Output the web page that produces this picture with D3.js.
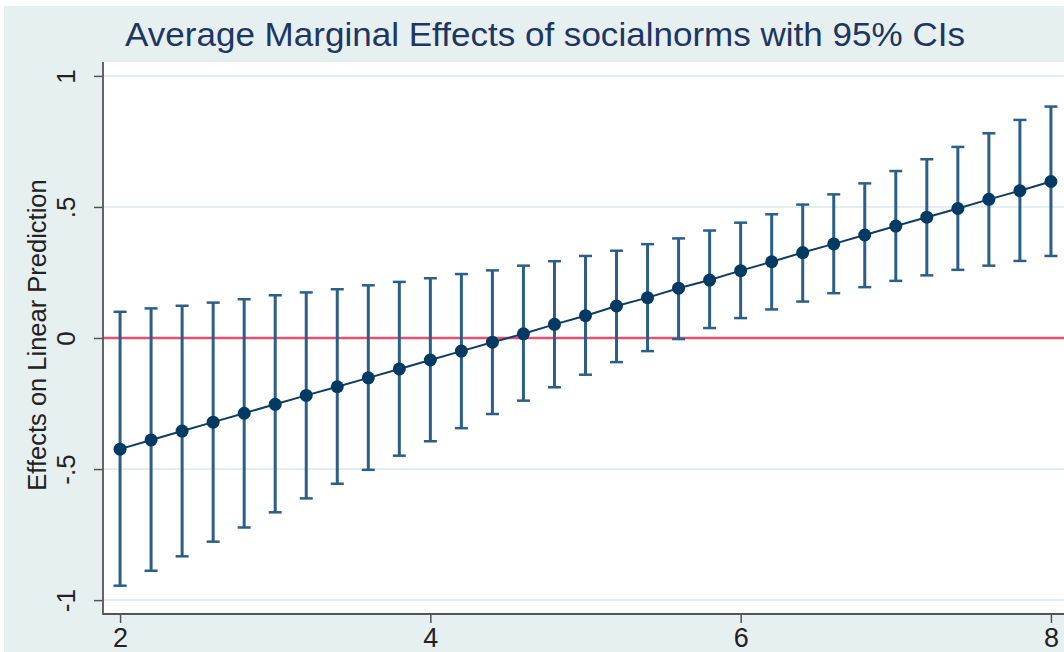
<!DOCTYPE html>
<html>
<head>
<meta charset="utf-8">
<script src="https://cdn.jsdelivr.net/npm/d3@7"></script>
<style>
  body { margin: 0; background: #fff; }
  text { font-family: "Liberation Sans", Arial, sans-serif; }
</style>
</head>
<body>
<div class="chart"></div>
<script>
// values
const xVals = [2, 2.2, 2.4, 2.6, 2.8, 3, 3.2, 3.4, 3.6, 3.8, 4, 4.2, 4.4, 4.6, 4.8, 5,
  5.2, 5.4, 5.6, 5.8, 6, 6.2, 6.4, 6.6, 6.8, 7, 7.2, 7.4, 7.6, 7.8, 8];
const margins = [-0.424, -0.389, -0.355, -0.321, -0.287, -0.253, -0.219, -0.186, -0.152, -0.118,
  -0.084, -0.050, -0.016, 0.016, 0.052, 0.085, 0.122, 0.154, 0.190, 0.221, 0.257, 0.291,
  0.326, 0.359, 0.393, 0.427, 0.461, 0.494, 0.529, 0.562, 0.597];
const upperCI = [0.100, 0.113, 0.123, 0.135, 0.148, 0.163, 0.174, 0.186, 0.201, 0.214,
  0.228, 0.244, 0.258, 0.276, 0.293, 0.313, 0.333, 0.358, 0.380, 0.410, 0.440, 0.472,
  0.509, 0.548, 0.590, 0.637, 0.682, 0.729, 0.781, 0.832, 0.883];
const lowerCI = [-0.945, -0.888, -0.833, -0.777, -0.723, -0.665, -0.612, -0.556, -0.503, -0.449,
  -0.394, -0.344, -0.290, -0.239, -0.188, -0.140, -0.092, -0.050, -0.004, 0.038, 0.076, 0.109,
  0.139, 0.171, 0.194, 0.218, 0.239, 0.260, 0.276, 0.294, 0.313];
const yTicks = [-1, -0.5, 0, 0.5, 1];
const yTickLabels = ["-1", "-.5", "0", ".5", "1"];
const xTicks = [2, 4, 6, 8];
const titleText = "Average Marginal Effects of socialnorms with 95% CIs";
const yTitle = "Effects on Linear Prediction";

const data = xVals.map((x, i) => ({x: x, m: margins[i], lo: lowerCI[i], hi: upperCI[i]}));

const width = 1064;
const height = 652;
const svg = d3.select('.chart')
    .append('svg')
    .attr('width', width)
    .attr('height', height);

// outer graph region
svg.append('rect')
    .attr('x', 4).attr('y', 6)
    .attr('width', width).attr('height', height)
    .attr('fill', '#e6f0f1');

const x = d3.scaleLinear().domain([1.89, 8.11]).range([103, 1068]);
const y = d3.scaleLinear().domain([-1.053, 1.053]).range([614, 62]);

// plot region
svg.append('rect')
    .attr('x', x(1.89)).attr('y', y(1.053))
    .attr('width', x(8.11) - x(1.89)).attr('height', y(-1.053) - y(1.053))
    .attr('fill', '#fff');

// gridlines
svg.selectAll('.grid')
    .data(yTicks.filter(t => t !== 0))
    .enter()
    .append('line')
    .attr('x1', x(1.89)).attr('x2', x(8.11))
    .attr('y1', d => y(d)).attr('y2', d => y(d))
    .attr('stroke', '#e3eef0')
    .attr('stroke-width', 2);

// reference line at zero
svg.append('line')
    .attr('x1', x(1.89)).attr('x2', x(8.11))
    .attr('y1', y(0)).attr('y2', y(0))
    .attr('stroke', '#e8506f')
    .attr('stroke-width', 2.5);

// axes
const yAxis = d3.axisLeft(y)
    .tickValues(yTicks)
    .tickSize(9)
    .tickFormat((d, i) => yTickLabels[i]);
const gy = svg.append('g')
    .attr('transform', 'translate(' + x(1.89) + ',0)')
    .call(yAxis);
gy.select('.domain').remove();
gy.selectAll('.tick line').attr('stroke', '#555').attr('stroke-width', 1.5);
gy.selectAll('.tick text')
    .attr('x', null).attr('dy', null)
    .attr('text-anchor', 'middle')
    .attr('transform', 'translate(-28,0) rotate(-90)')
    .attr('font-size', 26)
    .attr('fill', '#222');

const xAxis = d3.axisBottom(x)
    .tickValues(xTicks)
    .tickSize(9)
    .tickFormat(d3.format('d'));
const gx = svg.append('g')
    .attr('transform', 'translate(0,' + y(-1.053) + ')')
    .call(xAxis);
gx.select('.domain').remove();
gx.selectAll('.tick line').attr('stroke', '#555').attr('stroke-width', 1.5);
gx.selectAll('.tick text')
    .attr('y', 33).attr('dy', null)
    .attr('font-size', 27)
    .attr('fill', '#222');

// axis lines
svg.append('line')
    .attr('x1', x(1.89)).attr('x2', x(1.89))
    .attr('y1', y(1.053)).attr('y2', y(-1.053) + 1)
    .attr('stroke', '#555').attr('stroke-width', 1.8);
svg.append('line')
    .attr('x1', x(1.89)).attr('x2', x(8.11))
    .attr('y1', y(-1.053)).attr('y2', y(-1.053))
    .attr('stroke', '#555').attr('stroke-width', 1.8);

// CI bars
const ciColor = '#2b5f87';
svg.selectAll('.ci')
    .data(data)
    .enter()
    .append('line')
    .attr('x1', d => x(d.x)).attr('x2', d => x(d.x))
    .attr('y1', d => y(d.hi)).attr('y2', d => y(d.lo))
    .attr('stroke', ciColor)
    .attr('stroke-width', 3);
['hi', 'lo'].forEach(k => {
  svg.selectAll('.cap-' + k)
      .data(data)
      .enter()
      .append('line')
      .attr('x1', d => x(d.x) - 6.5).attr('x2', d => x(d.x) + 6.5)
      .attr('y1', d => y(d[k])).attr('y2', d => y(d[k]))
      .attr('stroke', ciColor)
      .attr('stroke-width', 2.5);
});

// connecting line and points
const line = d3.line().x(d => x(d.x)).y(d => y(d.m));
svg.append('path')
    .datum(data)
    .attr('d', line)
    .attr('fill', 'none')
    .attr('stroke', '#0f3d62')
    .attr('stroke-width', 2);
svg.selectAll('.pt')
    .data(data)
    .enter()
    .append('circle')
    .attr('cx', d => x(d.x))
    .attr('cy', d => y(d.m))
    .attr('r', 6.5)
    .attr('fill', '#023a63');

// titles
svg.append('text')
    .attr('x', 545).attr('y', 46)
    .attr('text-anchor', 'middle')
    .attr('font-size', 33)
    .attr('textLength', 840)
    .attr('lengthAdjust', 'spacingAndGlyphs')
    .attr('fill', '#1e3660')
    .text(titleText);
svg.append('text')
    .attr('transform', 'translate(46,335) rotate(-90)')
    .attr('text-anchor', 'middle')
    .attr('font-size', 25.5)
    .attr('fill', '#222')
    .text(yTitle);
</script>
</body>
</html>
